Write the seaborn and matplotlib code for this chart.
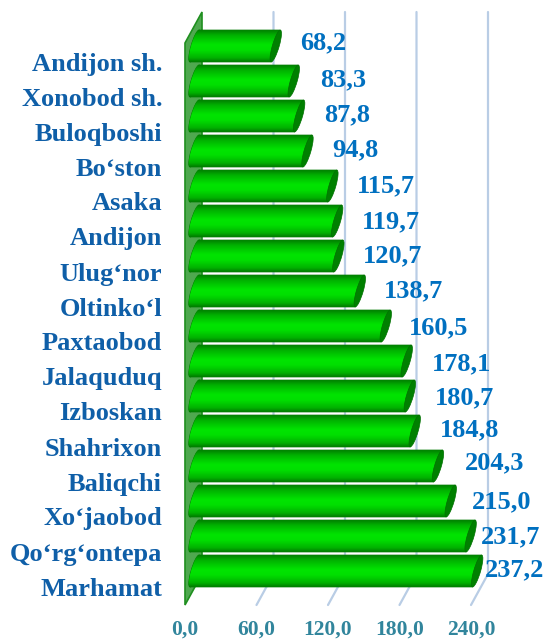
import numpy as np
import seaborn as sns
import matplotlib.pyplot as plt
from matplotlib.patches import PathPatch, Polygon
from matplotlib.path import Path
from matplotlib.colors import LinearSegmentedColormap

districts = ["Andijon sh.", "Xonobod sh.", "Buloqboshi", "Bo‘ston", "Asaka", "Andijon",
             "Ulug‘nor", "Oltinko‘l", "Paxtaobod", "Jalaquduq", "Izboskan", "Shahrixon",
             "Baliqchi", "Xo‘jaobod", "Qo‘rg‘ontepa", "Marhamat"]
values = [68.2, 83.3, 87.8, 94.8, 115.7, 119.7, 120.7, 138.7,
          160.5, 178.1, 180.7, 184.8, 204.3, 215.0, 231.7, 237.2]
ticks = [0, 60, 120, 180, 240]

W, H = 547, 639
X0, PX_PER_X = 185, 71.5 / 60   # pixel of zero, pixels per unit
Y0, PX_PER_ROW = 46, 35         # pixel of first bar centre, pixels per row
DEPTH = 17 / PX_PER_X           # 3d depth of the floor
BAR_START = 9.5 / PX_PER_X
FLOOR = (605 - Y0) / PX_PER_ROW
RISE = 31 / PX_PER_ROW
TOP = (12 - Y0) / PX_PER_ROW
CAP_RX = 3.5 / PX_PER_X
CAP_LEAN = 4.5 / PX_PER_X

# small label nudges, in pixels (x, y down)
label_dx = [-1, 1, -1, -1, -1, -1, -1, -1, -2, 0, 0, 0, 1, -4, -15, -18]
label_dy = [-3, -1, -1, -1, 0, 1, 0, 0, 2, 3, 2, -1, -3, 1, 1, -1]

sns.set_style("white")
plt.rcParams['font.family'] = ['Liberation Serif', 'DejaVu Serif']

fig = plt.figure(figsize=(W / 100, H / 100), dpi=100)
ax = fig.add_axes([0, 0, 1, 1])

sns.barplot(x=values, y=districts, orient="h", width=0.91, color="#00c000",
            saturation=1, ax=ax, zorder=3)
bars = list(ax.patches)

ax.set_xlim(-X0 / PX_PER_X, (W - X0) / PX_PER_X)
ax.set_ylim((H - Y0) / PX_PER_ROW, -Y0 / PX_PER_ROW)
xlim, ylim = ax.get_xlim(), ax.get_ylim()
ax.axis("off")

# grid lines: up the floor, then up the back wall
for t in ticks[1:]:
    ax.plot([t, t + DEPTH, t + DEPTH], [FLOOR, FLOOR - RISE, TOP],
            color="#b9cde5", lw=1.6, zorder=1, solid_joinstyle="miter")

# side wall
ax.add_patch(Polygon([(0, FLOOR), (DEPTH, FLOOR - RISE), (DEPTH, TOP), (0, TOP + RISE)],
                     closed=True, facecolor="#4fa84f", edgecolor="#1f8f1f", lw=1.2, zorder=2))

cmap = LinearSegmentedColormap.from_list(
    "tube", [(0, "#008000"), (0.15, "#00b000"), (0.45, "#00e400"), (0.62, "#00e000"),
             (0.88, "#00b000"), (1, "#007c00")])
gradient = np.linspace(0, 1, 64).reshape(-1, 1)
circle = Path.unit_circle()


def sheared_ellipse(cx, cy, h):
    verts = circle.vertices
    # the top of the cap leans to the right
    xs = cx + CAP_RX * verts[:, 0] - CAP_LEAN * verts[:, 1]
    ys = cy + h / 2 * verts[:, 1]
    return Path(np.column_stack([xs, ys]), circle.codes)


for i, bar in enumerate(bars):
    v = values[i]
    h = bar.get_height()
    y = bar.get_y()
    cy = y + h / 2
    end = BAR_START + v
    body = Path.make_compound_path(
        Path([(BAR_START + CAP_LEAN, y), (end + CAP_LEAN, y), (end - CAP_LEAN, y + h),
              (BAR_START - CAP_LEAN, y + h), (BAR_START + CAP_LEAN, y)], closed=True),
        sheared_ellipse(BAR_START, cy, h))
    clip = PathPatch(body, facecolor="#00c000", edgecolor="#007a00", lw=0.6, zorder=3)
    ax.add_patch(clip)
    im = ax.imshow(gradient, extent=[BAR_START - 10, end + 10, y + h, y], aspect="auto",
                   cmap=cmap, zorder=3.1, interpolation="bilinear")
    im.set_clip_path(clip)
    ax.add_patch(PathPatch(sheared_ellipse(end, cy, h), facecolor="#008000",
                           edgecolor="#007000", lw=0.5, zorder=3.2))
    bar.set_visible(False)

    ax.annotate(f"{v:.1f}".replace(".", ","), (v, i), xytext=(35 + label_dx[i], -label_dy[i]),
                textcoords="offset pixels", ha="left", va="center", color="#0070c0",
                fontsize=19, fontweight="bold", zorder=5)
    ax.annotate(districts[i], (0, i), xytext=(-23, -18), textcoords="offset pixels",
                ha="right", va="center", color="#0f5fa8", fontsize=19,
                fontweight="bold", zorder=5)

for t in ticks:
    ax.annotate(f"{t:.1f}".replace(".", ","), (t, FLOOR), xytext=(0, -30),
                textcoords="offset pixels", ha="center", va="baseline", color="#31859c",
                fontsize=15.5, fontweight="bold")

ax.set_xlim(xlim)
ax.set_ylim(ylim)
fig.savefig("out.png", dpi=100)
